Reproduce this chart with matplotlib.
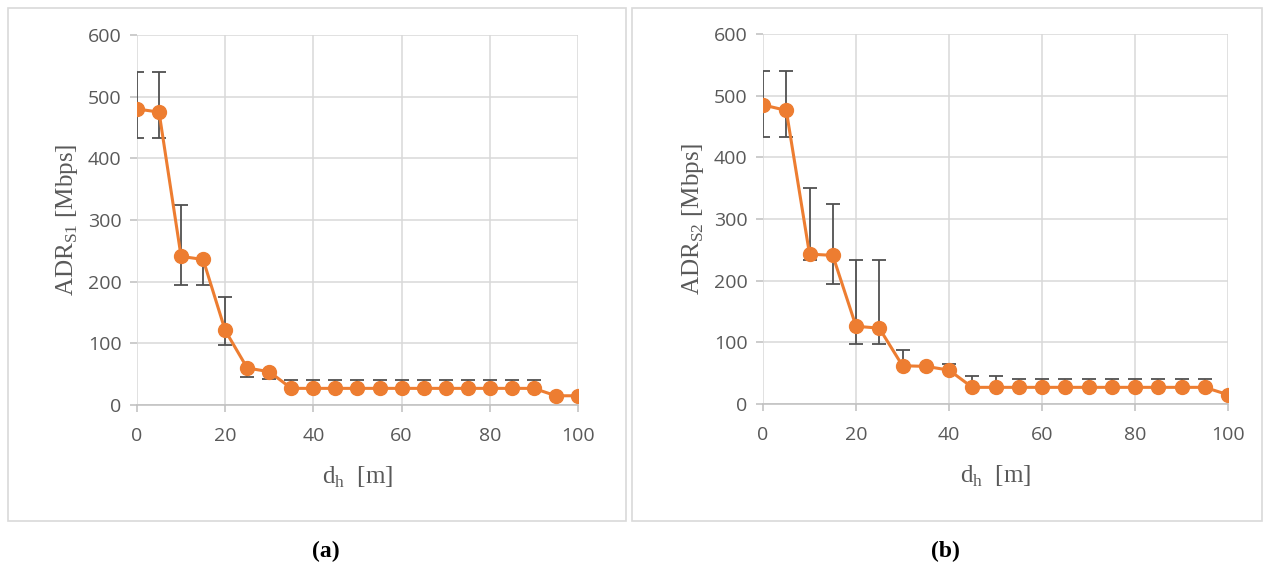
import matplotlib
matplotlib.use("Agg")
from matplotlib import pyplot as plt
from matplotlib.patches import Rectangle
import numpy as np

# distances [m]
d_h = list(range(0, 101, 5))

# panel (a): ADR S1
adr_s1 = [480, 475, 241, 236, 121, 60, 54, 27, 27, 27, 27, 27, 27, 27, 27, 27, 27, 27, 27, 15, 15]
s1_hi = [540, 540, 325, 236, 175, 60, 54, 40, 40, 40, 40, 40, 40, 40, 40, 40, 40, 40, 40, 15, 15]
s1_lo = [433, 433, 195, 195, 97, 45, 42, 27, 27, 27, 27, 27, 27, 27, 27, 27, 27, 27, 27, 15, 15]

# panel (b): ADR S2
adr_s2 = [485, 476, 243, 241, 126, 123, 62, 61, 55, 27, 27, 27, 27, 27, 27, 27, 27, 27, 27, 27, 15]
s2_hi = [540, 540, 350, 325, 233, 233, 87, 61, 65, 45, 45, 40, 40, 40, 40, 40, 40, 40, 40, 40, 15]
s2_lo = [433, 433, 233, 195, 97, 97, 62, 61, 55, 27, 27, 27, 27, 27, 27, 27, 27, 27, 27, 27, 15]

ylabels = [r'ADR$_{\mathrm{S1}}$ [Mbps]', r'ADR$_{\mathrm{S2}}$ [Mbps]']
captions = ['(a)', '(b)']

orange = '#ED7D31'
grey_txt = '#595959'
grid_c = '#D9D9D9'

plt.rcParams['mathtext.fontset'] = 'custom'
plt.rcParams['mathtext.rm'] = 'Liberation Serif'

fig = plt.figure(figsize=(12.66, 5.69), dpi=100)

ax_pos = [[0.1082, 0.2882, 0.3483, 0.6503], [0.6027, 0.2900, 0.3673, 0.6503]]
frames = [[0.0063, 0.0844, 0.4880, 0.9016], [0.4992, 0.0844, 0.4976, 0.9016]]
cap_x = [0.2575, 0.7470]

data = [(adr_s1, s1_lo, s1_hi), (adr_s2, s2_lo, s2_hi)]

for i in range(2):
    fig.patches.append(Rectangle((frames[i][0], frames[i][1]), frames[i][2], frames[i][3],
                                 transform=fig.transFigure, fill=False, edgecolor='#D9D9D9', lw=1.2))
    ax = fig.add_axes(ax_pos[i])
    y, lo, hi = data[i]
    y = np.array(y)
    err = [y - np.array(lo), np.array(hi) - y]
    ax.errorbar(d_h, y, yerr=err, fmt='none', ecolor='#505050', elinewidth=1.3, capsize=5, capthick=1.3, zorder=2)
    ax.plot(d_h, y, color=orange, lw=2.2, marker='o', markersize=10, zorder=3)

    ax.set_xlim(0, 100)
    ax.set_ylim(0, 600)
    ax.set_xticks(range(0, 101, 20))
    ax.set_yticks(range(0, 601, 100))
    ax.grid(True, color=grid_c, lw=1.1)
    ax.set_axisbelow(True)
    for s in ['top', 'right', 'left']:
        ax.spines[s].set_visible(False)
    ax.spines['bottom'].set_color('#BFBFBF')
    ax.spines['bottom'].set_linewidth(1.1)
    ax.tick_params(axis='both', length=5, color='#BFBFBF', labelcolor=grey_txt, labelsize=14, width=1.1)
    ax.tick_params(axis='x', pad=11)
    ax.tick_params(axis='y', pad=6)
    for lab in ax.get_xticklabels() + ax.get_yticklabels():
        lab.set_family('Open Sans')

    ax.set_ylabel(ylabels[i], family='Liberation Serif', fontsize=18, color=grey_txt, labelpad=6)
    ax.set_xlabel(r'd$_{\mathrm{h}}$  [m]', family='Liberation Serif', fontsize=18, color=grey_txt, labelpad=14)

    fig.text(cap_x[i], 0.03, captions[i], family='Liberation Serif', fontsize=17, fontweight='bold',
             ha='center', va='center', color='black')

fig.savefig('out.png', dpi=100)
